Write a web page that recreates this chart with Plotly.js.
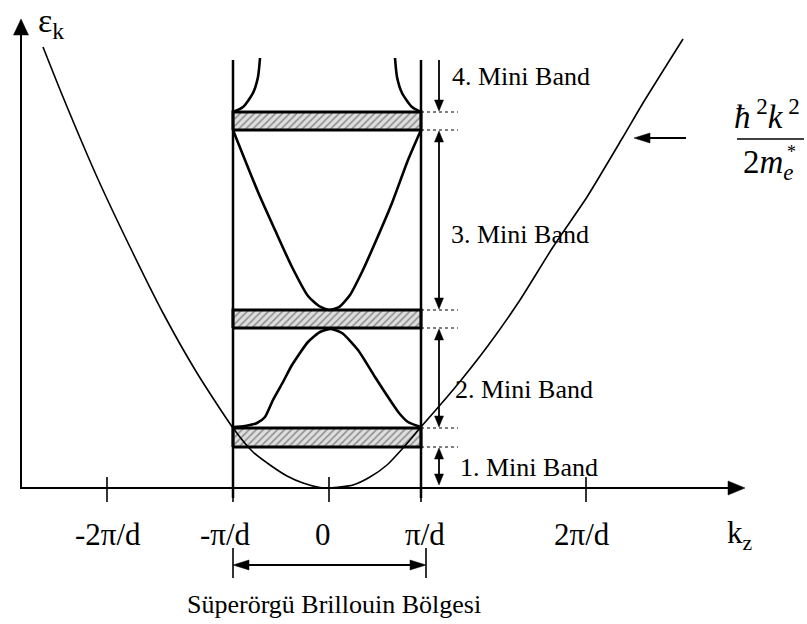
<!DOCTYPE html>
<html>
<head>
<meta charset="utf-8">
<script src="https://cdn.plot.ly/plotly-3.0.1.min.js"></script>
<style>
  html, body { margin: 0; padding: 0; background: #fff; }
  #chart { width: 807px; height: 624px; }
</style>
</head>
<body>
<div id="chart"></div>
<script>
// Superlattice minibands: the free-electron dispersion folded into the
// superlattice Brillouin zone, with the mini gaps drawn as hatched bars.
// Horizontal: wave vector k_z (zone edges at -π/d and π/d). Vertical: energy ε_k.

// Brillouin zone edges (-π/d, π/d)
const zoneEdges = [-96, 92];

// Mini gaps (bottom / top energy of each hatched bar)
const gapBottom = [41, 160, 358];
const gapTop    = [60, 178, 376];

// Mini bands (energy span of each band)
const bandBottom = [0, 60, 178, 376];
const bandTop    = [41, 160, 358, 428];
const bandLabels = ['1. Mini Band', '2. Mini Band', '3. Mini Band', '4. Mini Band'];
const bandLabelK = [129, 124, 120, 121];
const bandLabelE = [21, 99, 254, 412];

// Free-electron dispersion ħ²k²/2m*
const freeK = [-286, -266, -232, -199, -166, -132, -96, -76, -59, -42, -26, -9, 1, 24, 41, 58, 74, 92, 124, 158, 191, 224, 258, 294, 314, 354];
const freeE = [441, 391, 311, 241, 175, 115, 60, 36, 23, 12, 5, 0.5, 0, 3, 11, 23, 40, 61, 98, 141, 188, 241, 291, 351, 385, 449];

// Folded band 2 (cosine-like hump)
const band2K = [-96, -84, -72, -64, -56, -46, -37, -21, -9, 2, 13, 29, 46, 63, 70, 79, 92];
const band2E = [61, 62, 65, 71, 88, 106, 123, 146, 156, 159, 155, 138, 111, 85, 75, 66, 61];

// Folded band 3 (valley)
const band3K = [-96, -71, -54, -37, -21, -10, 0, 10, 21, 33, 46, 63, 79, 92];
const band3E = [358, 296, 258, 221, 192, 182, 178, 181, 193, 216, 245, 285, 328, 358];

// Folded band 4 (two branches rising from the zone edges)
const band4LK = [-96, -86, -76, -71, -69];
const band4LE = [376, 381, 395, 411, 430];
const band4RK = [66, 68, 73, 83, 92];
const band4RE = [430, 411, 395, 381, 376];

// k_z axis ticks
const tickK      = [-222, -96, 0, 92, 257];
const tickLabels = ['-2π/d', '-π/d', '0', 'π/d', '2π/d'];
const tickLabelK = [-221, -104, -6, 96, 253];

// ---------------------------------------------------------------------------
const FONT = '"Liberation Serif", "Times New Roman", serif';
const INK = '#000';

// axis geometry
const K_MIN = -329, K_MAX = 478, E_MIN = -136, E_MAX = 488;
const yAxisK = -308, yAxisTop = 469;
const xAxisLeft = -309, xAxisRight = 416;
const bandArrowK = 110;
const dotEndK = 129;

const shapes = [];
const annotations = [];
const traces = [];

function line(x0, y0, x1, y1, width, dash) {
  shapes.push({ type: 'line', xref: 'x', yref: 'y', x0, y0, x1, y1,
    line: { color: INK, width: width, dash: dash || 'solid' } });
}
// filled triangular arrow head; (dx, dy) is the pointing direction
function head(tx, ty, dx, dy, len, halfW) {
  const bx = tx - dx * len, by = ty - dy * len;
  const px = -dy * halfW, py = dx * halfW;
  shapes.push({ type: 'path', xref: 'x', yref: 'y',
    path: `M${tx},${ty} L${bx + px},${by + py} L${bx - px},${by - py} Z`,
    fillcolor: INK, line: { color: INK, width: 0.5 } });
}
function text(x, y, str, size, xanchor, yanchor) {
  annotations.push({ x, y, xref: 'x', yref: 'y', text: str,
    showarrow: false, xanchor: xanchor || 'center', yanchor: yanchor || 'middle',
    font: { family: FONT, size: size, color: INK } });
}

// axes
line(yAxisK, 0, yAxisK, yAxisTop - 14, 2);
head(yAxisK, yAxisTop, 0, 1, 16, 7.5);
line(xAxisLeft, 0, xAxisRight - 14, 0, 2);
head(xAxisRight, 0, 1, 0, 17, 7);
tickK.forEach(k => line(k, 11, k, -14, 1.6));
tickLabels.forEach((t, i) => text(tickLabelK[i], -46, t, 31));
text(411, -47, 'k<sub>z</sub>', 31);
text(-293, 488, 'ε<sub>k</sub>', 34, 'left', 'top');

// zone edges
zoneEdges.forEach(k => line(k, -10, k, 428, 2.5));

// mini gaps as hatched bars
gapBottom.forEach((b, i) => {
  const t = gapTop[i];
  traces.push({
    type: 'scatter', mode: 'lines', hoverinfo: 'skip',
    x: [zoneEdges[0], zoneEdges[1], zoneEdges[1], zoneEdges[0], zoneEdges[0]],
    y: [b, b, t, t, b],
    fill: 'toself', fillcolor: '#d6d6d6',
    fillpattern: { shape: '/', fgcolor: '#8c8c8c', bgcolor: '#dedede', size: 5, solidity: 0.3 },
    line: { color: INK, width: 3 }
  });
});

// dispersion curves
function curve(x, y, width) {
  traces.push({ type: 'scatter', mode: 'lines', hoverinfo: 'skip', x, y,
    line: { color: INK, width: width, shape: 'spline', smoothing: 0.6 } });
}
curve(freeK, freeE, 1.6);
curve(band2K, band2E, 2.6);
curve(band3K, band3E, 2.6);
curve(band4LK, band4LE, 2.6);
curve(band4RK, band4RE, 2.6);

// band widths: dotted guides + arrows
gapBottom.concat(gapTop).forEach(e => line(zoneEdges[1], e, dotEndK, e, 1.2, 'dot'));
bandBottom.forEach((b, i) => {
  const t = bandTop[i];
  const last = i === bandBottom.length - 1;
  if (last) {
    line(bandArrowK, t, bandArrowK, b + 10, 1.8);
    head(bandArrowK, b + 1, 0, -1, 11, 4.5);
  } else {
    const lo = i === 0 ? b + 3 : b + 1;
    line(bandArrowK, lo + 9, bandArrowK, t - 10, 1.8);
    head(bandArrowK, t - 1, 0, 1, 11, 4.5);
    head(bandArrowK, lo, 0, -1, 11, 4.5);
  }
  text(bandLabelK[i], bandLabelE[i], bandLabels[i], 26, 'left');
});

// free-electron formula with pointer
line(357, 350, 318, 350, 2);
head(305, 350, -1, 0, 16, 5);
text(438, 374, '<i>ħ</i><sup> 2</sup><i>k</i><sup> 2</sup>', 33);
line(408, 349, 475, 349, 1.5);
text(439, 324, '2<i>m</i><sub><i>e</i></sub>', 33);
text(462, 336, '*', 18);

// Brillouin zone extent
const bzK = [-96, 97];
bzK.forEach(k => line(k, -60, k, -90, 1.6));
line(bzK[0] + 14, -77, bzK[1] - 14, -77, 2);
head(bzK[0], -77, -1, 0, 16, 5);
head(bzK[1], -77, 1, 0, 16, 5);
text(5, -116, 'Süperörgü Brillouin Bölgesi', 26);

const layout = {
  width: 807, height: 624,
  margin: { l: 0, r: 0, t: 0, b: 0 },
  paper_bgcolor: '#fff', plot_bgcolor: '#fff',
  showlegend: false,
  xaxis: { range: [K_MIN, K_MAX], visible: false, fixedrange: true },
  yaxis: { range: [E_MIN, E_MAX], visible: false, fixedrange: true },
  shapes: shapes,
  annotations: annotations
};

Plotly.newPlot('chart', traces, layout, { staticPlot: true, displayModeBar: false });
</script>
</body>
</html>
